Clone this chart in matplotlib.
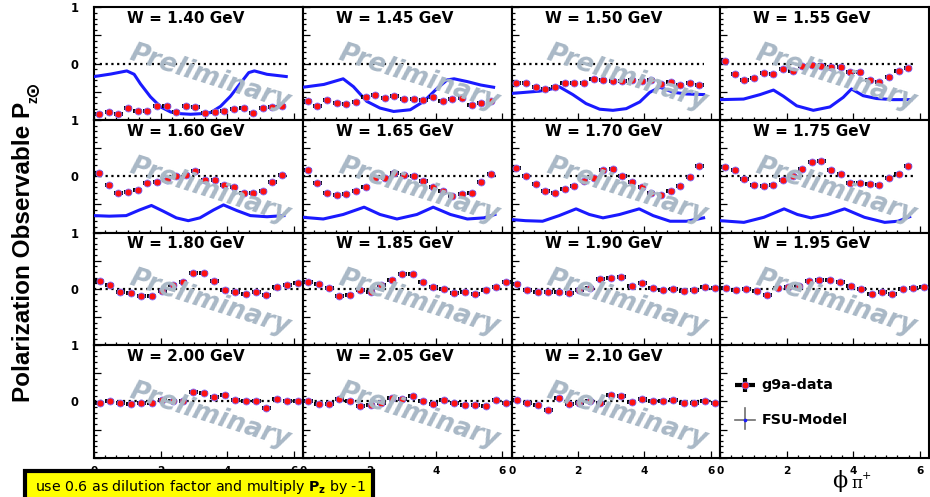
import numpy as np
import matplotlib
matplotlib.use("Agg")
import matplotlib.pyplot as plt
from matplotlib.ticker import MultipleLocator, FuncFormatter
from matplotlib.patches import Rectangle

plt.rcParams['font.family'] = ['DejaVu Sans']
plt.rcParams['mathtext.fontset'] = 'dejavusans'

# ---------------------------------------------------------------- data
w_labels = ['1.40', '1.45', '1.50', '1.55', '1.60', '1.65', '1.70', '1.75',
            '1.80', '1.85', '1.90', '1.95', '2.00', '2.05', '2.10']

# phi binning: 20 bins over [0, 5.8] for W < 1.8 GeV, 20 bins over [0, 2pi] above
edges_low = np.linspace(0.0, 5.8, 21)
edges_high = np.linspace(0.0, 2 * np.pi, 21)
phi_low = 0.5 * (edges_low[1:] + edges_low[:-1])
phi_high = 0.5 * (edges_high[1:] + edges_high[:-1])

pz_140 = [-0.90, -0.86, -0.90, -0.78, -0.85, -0.85, -0.75, -0.75, -0.86, -0.75,
          -0.77, -0.87, -0.86, -0.85, -0.81, -0.78, -0.87, -0.78, -0.77, -0.76]
pz_145 = [-0.66, -0.75, -0.65, -0.70, -0.71, -0.69, -0.59, -0.55, -0.61, -0.57,
          -0.62, -0.62, -0.65, -0.59, -0.67, -0.62, -0.61, -0.73, -0.70, -0.66]
pz_150 = [-0.35, -0.35, -0.41, -0.45, -0.41, -0.35, -0.35, -0.34, -0.28, -0.30,
          -0.31, -0.31, -0.29, -0.31, -0.29, -0.37, -0.32, -0.38, -0.35, -0.38]
pz_155 = [0.04, -0.19, -0.29, -0.25, -0.17, -0.19, -0.10, -0.13, -0.05, -0.03,
          -0.04, -0.055, -0.055, -0.15, -0.155, -0.295, -0.32, -0.245, -0.13, -0.085]
pz_160 = [0.06, -0.16, -0.29, -0.28, -0.25, -0.12, -0.095, -0.06, 0.00, 0.02,
          0.10, -0.065, -0.065, -0.16, -0.195, -0.295, -0.30, -0.26, -0.105, 0.02]
pz_165 = [0.115, -0.125, -0.30, -0.335, -0.315, -0.27, -0.19, -0.03, -0.04, 0.055,
          0.03, 0.005, -0.08, -0.195, -0.26, -0.355, -0.315, -0.295, -0.11, 0.045]
pz_170 = [0.15, 0.00, -0.14, -0.26, -0.29, -0.22, -0.18, -0.08, -0.03, 0.11,
          0.125, -0.005, -0.10, -0.20, -0.30, -0.33, -0.26, -0.18, -0.02, 0.18]
pz_175 = [0.17, 0.11, -0.05, -0.15, -0.18, -0.15, -0.065, 0.01, 0.12, 0.26,
          0.27, 0.11, 0.04, -0.125, -0.125, -0.13, -0.16, -0.04, 0.04, 0.18]
pz_180 = [0.145, 0.07, -0.06, -0.07, -0.125, -0.12, -0.035, 0.065, 0.12, 0.28,
          0.28, 0.145, -0.015, -0.06, -0.095, -0.06, -0.105, 0.025, 0.07, 0.105]
pz_185 = [0.12, 0.08, 0.02, -0.12, -0.11, -0.02, -0.06, 0.06, 0.15, 0.26,
          0.27, 0.12, 0.04, 0.00, -0.08, -0.05, -0.10, -0.03, 0.04, 0.12]
pz_190 = [0.08, -0.02, -0.05, -0.065, -0.05, -0.08, -0.02, 0.02, 0.17, 0.20,
          0.21, 0.05, 0.095, 0.02, -0.02, 0.00, -0.035, -0.02, 0.04, 0.02]
pz_195 = [0.02, -0.02, -0.005, -0.035, -0.11, 0.01, 0.04, 0.05, 0.13, 0.15,
          0.165, 0.12, 0.05, 0.00, -0.095, -0.05, -0.09, -0.005, 0.02, 0.04]
pz_200 = [-0.03, 0.01, -0.02, -0.05, -0.02, -0.035, 0.025, 0.01, 0.01, 0.16,
          0.155, 0.08, 0.12, 0.03, 0.01, 0.01, -0.125, 0.04, 0.00, 0.01]
pz_205 = [0.01, -0.04, -0.05, 0.04, 0.005, -0.08, -0.07, -0.03, 0.065, 0.05,
          0.09, 0.00, -0.04, 0.03, -0.02, -0.06, -0.07, -0.09, 0.02, -0.03]
pz_210 = [0.03, -0.02, -0.06, -0.15, 0.06, -0.04, -0.03, 0.01, -0.03, 0.11,
          0.09, -0.01, 0.04, 0.01, 0.01, 0.02, -0.03, -0.025, 0.01, -0.02]

# FSU model curves (phi, Pz)
fsu_phi_140 = [0.0, 0.5, 0.98, 1.2, 1.39, 1.69, 2.0, 2.3, 2.6, 2.9, 3.2, 3.5, 3.8, 4.1, 4.4, 4.65, 4.82, 5.2, 5.78]
fsu_pz_140 = [-0.23, -0.185, -0.13, -0.19, -0.36, -0.59, -0.77, -0.86, -0.89, -0.90, -0.89, -0.87, -0.76, -0.58, -0.35, -0.16, -0.13, -0.19, -0.23]
fsu_phi_145 = [0.0, 0.63, 1.21, 1.52, 1.92, 2.32, 2.73, 3.23, 3.64, 4.04, 4.34, 4.55, 4.95, 5.35, 5.74]
fsu_pz_145 = [-0.42, -0.37, -0.27, -0.41, -0.67, -0.79, -0.85, -0.82, -0.67, -0.44, -0.29, -0.27, -0.32, -0.38, -0.42]
fsu_phi_150 = [0.0, 0.83, 1.2, 1.43, 1.84, 2.24, 2.65, 3.05, 3.45, 3.86, 4.16, 4.46, 4.87, 5.27, 5.78]
fsu_pz_150 = [-0.53, -0.49, -0.45, -0.41, -0.55, -0.71, -0.81, -0.83, -0.80, -0.68, -0.51, -0.42, -0.51, -0.54, -0.55]
fsu_phi_155 = [0.0, 0.7, 1.2, 1.6, 1.9, 2.3, 2.8, 3.3, 3.7, 3.95, 4.3, 4.7, 5.2, 5.75]
fsu_pz_155 = [-0.64, -0.63, -0.55, -0.47, -0.58, -0.75, -0.83, -0.77, -0.60, -0.45, -0.57, -0.62, -0.64, -0.64]
fsu_phi_160 = [0.0, 0.45, 0.96, 1.36, 1.72, 2.07, 2.47, 2.83, 3.18, 3.59, 3.89, 4.29, 4.7, 5.2, 5.71]
fsu_pz_160 = [-0.70, -0.71, -0.70, -0.60, -0.52, -0.62, -0.74, -0.79, -0.74, -0.60, -0.51, -0.61, -0.70, -0.72, -0.70]
fsu_phi_165 = [0.0, 0.61, 1.21, 1.84, 2.32, 2.83, 3.43, 3.92, 4.44, 4.95, 5.45, 5.78]
fsu_pz_165 = [-0.73, -0.76, -0.68, -0.55, -0.68, -0.76, -0.68, -0.55, -0.68, -0.76, -0.74, -0.68]
fsu_phi_170 = [0.0, 0.42, 0.93, 1.43, 1.94, 2.34, 2.75, 3.25, 3.84, 4.26, 4.77, 5.27, 5.78]
fsu_pz_170 = [-0.77, -0.79, -0.80, -0.70, -0.58, -0.68, -0.74, -0.68, -0.58, -0.70, -0.80, -0.80, -0.74]
fsu_phi_175 = [0.0, 0.71, 1.31, 1.92, 2.32, 2.73, 3.23, 3.74, 4.34, 4.95, 5.35, 5.7]
fsu_pz_175 = [-0.79, -0.82, -0.73, -0.58, -0.68, -0.74, -0.68, -0.58, -0.73, -0.82, -0.80, -0.72]

pz_sets = [pz_140, pz_145, pz_150, pz_155, pz_160, pz_165, pz_170, pz_175,
           pz_180, pz_185, pz_190, pz_195, pz_200, pz_205, pz_210]
fsu_sets = [(fsu_phi_140, fsu_pz_140), (fsu_phi_145, fsu_pz_145),
            (fsu_phi_150, fsu_pz_150), (fsu_phi_155, fsu_pz_155),
            (fsu_phi_160, fsu_pz_160), (fsu_phi_165, fsu_pz_165),
            (fsu_phi_170, fsu_pz_170), (fsu_phi_175, fsu_pz_175)]

# ---------------------------------------------------------------- styling
W_PX, H_PX = 930, 497
RED = '#ff1010'
BLUE = '#1a1aff'
WATERMARK = '#a9b8c6'

fig = plt.figure(figsize=(W_PX / 100, H_PX / 100), dpi=100)
gs = fig.add_gridspec(4, 4, left=94.3 / W_PX, right=929 / W_PX,
                      bottom=1 - 457.7 / H_PX, top=1 - 7.3 / H_PX,
                      wspace=0, hspace=0)


def ylab(v, pos):
    if abs(v) < 1e-9:
        return '0'
    if abs(v - 1) < 1e-9:
        return '1'
    return ''


for r in range(4):
    for c in range(4):
        ax = fig.add_subplot(gs[r, c])
        idx = r * 4 + c
        ax.set_xlim(0, 2 * np.pi)
        ax.set_ylim(-1, 1)
        for sp in ax.spines.values():
            sp.set_linewidth(1.5)
        ax.xaxis.set_major_locator(MultipleLocator(2))
        ax.xaxis.set_minor_locator(MultipleLocator(1 / 3))
        ax.yaxis.set_major_locator(MultipleLocator(0.5))
        ax.yaxis.set_minor_locator(MultipleLocator(0.1))
        ax.tick_params(which='both', direction='in', top=False, right=False,
                       width=0.9, color='black')
        ax.tick_params(which='major', length=5)
        ax.tick_params(which='minor', length=2.5)
        ax.yaxis.set_major_formatter(FuncFormatter(ylab))
        ax.tick_params(axis='y', labelsize=8.3, pad=11.5)
        ax.tick_params(axis='x', labelsize=7.6, pad=6)
        for lab in ax.get_xticklabels() + ax.get_yticklabels():
            lab.set_fontweight('bold')
        if c != 0:
            ax.tick_params(axis='y', labelleft=False)
        if r != 3:
            ax.tick_params(axis='x', labelbottom=False)

        if idx < 15:
            phi = phi_low if r < 2 else phi_high
            xmax = 5.8 if r < 2 else 2 * np.pi
            xerr = 0.125 if r < 2 else 0.135
            ax.plot([0, xmax], [0, 0], color='black', lw=1.6,
                    linestyle=(0, (1, 1.6)), zorder=2)
            if idx < 8:
                mphi, mpz = fsu_sets[idx]
                ax.plot(mphi, mpz, color=BLUE, lw=2.2, zorder=3,
                        solid_joinstyle='round')
            ax.errorbar(phi, pz_sets[idx], xerr=xerr, yerr=0.025, fmt='o',
                        ms=5, mfc=RED, mec='#7a6cff', mew=0.6, ecolor='black',
                        elinewidth=2.8, capsize=0, zorder=4)
            ax.text(0.44, 0.86, f'W = {w_labels[idx]} GeV', transform=ax.transAxes,
                    ha='center', va='baseline', fontsize=11, fontweight='bold',
                    zorder=7)
            ax.text(0.555, 0.375, 'Preliminary', transform=ax.transAxes,
                    rotation=-17.5, rotation_mode='anchor', ha='center',
                    va='center', fontsize=18.5, fontweight='bold',
                    fontstyle='italic', color=WATERMARK, zorder=6)
        else:
            # legend box
            tr = ax.transAxes
            ax.plot([0.068, 0.165], [0.645, 0.645], transform=tr, color='black',
                    lw=3.0, solid_capstyle='butt')
            ax.plot([0.116, 0.116], [0.585, 0.705], transform=tr, color='black',
                    lw=3.0, solid_capstyle='butt')
            ax.plot([0.116], [0.645], 'o', transform=tr, ms=5, mfc=RED,
                    mec='#7a6cff', mew=0.6)
            ax.plot([0.068, 0.165], [0.339, 0.339], transform=tr, color='#6e6e6e',
                    lw=1.2)
            ax.plot([0.116, 0.116], [0.255, 0.445], transform=tr, color='#6e6e6e',
                    lw=1.2)
            ax.plot([0.116], [0.339], 'o', transform=tr, ms=2.6, mfc=BLUE,
                    mec=BLUE, mew=0)
            ax.text(0.198, 0.645, 'g9a-data', transform=tr, ha='left',
                    va='center', fontsize=10.3, fontweight='bold')
            ax.text(0.198, 0.339, 'FSU-Model', transform=tr, ha='left',
                    va='center', fontsize=10.3, fontweight='bold')

# y-axis title: main text, then subscript z and the circled-dot superscript
ylab_font = ['Liberation Sans', 'DejaVu Sans']
ytitle = fig.text(30 / W_PX, 1 - 402 / H_PX, 'Polarization Observable P',
                  rotation=90, rotation_mode='anchor', ha='left', va='baseline',
                  fontsize=17.5, fontweight='bold', family=ylab_font)
fig.canvas.draw()
bb = ytitle.get_window_extent()
fig.text(37 / W_PX, (bb.y1 - 1) / H_PX, 'z', rotation=90, rotation_mode='anchor',
         ha='left', va='baseline', fontsize=10, fontweight='bold', family=ylab_font)
fig.text(33 / W_PX, (bb.y1 + 5) / H_PX, '\u2299', rotation=90, rotation_mode='anchor',
         ha='left', va='center', fontsize=13.5, fontweight='bold',
         family=['DejaVu Sans'])

# x-axis title
fig.text(832 / W_PX, 1 - 487 / H_PX, '\u03d5', fontsize=16, va='baseline',
         ha='left', family=['DejaVu Serif'])
fig.text(851 / W_PX, 1 - 487.5 / H_PX, '\u03c0', fontsize=12, va='baseline',
         ha='left', family=['DejaVu Serif'])
fig.text(862 / W_PX, 1 - 479 / H_PX, '+', fontsize=8, va='baseline',
         ha='left', family=['DejaVu Serif'])

# note box
fig.add_artist(Rectangle((25 / W_PX, -0.05), (373 - 25) / W_PX,
                         (1 - 470.5 / H_PX) + 0.05, transform=fig.transFigure,
                         facecolor='#ffff00', edgecolor='black', lw=3, zorder=10))
fig.text(35 / W_PX, 1 - 490.5 / H_PX,
         r'use 0.6 as dilution factor and multiply $\mathbf{P_z}$ by -1',
         fontsize=10.2, va='baseline', ha='left', zorder=11)

fig.savefig('out.png', dpi=100)
